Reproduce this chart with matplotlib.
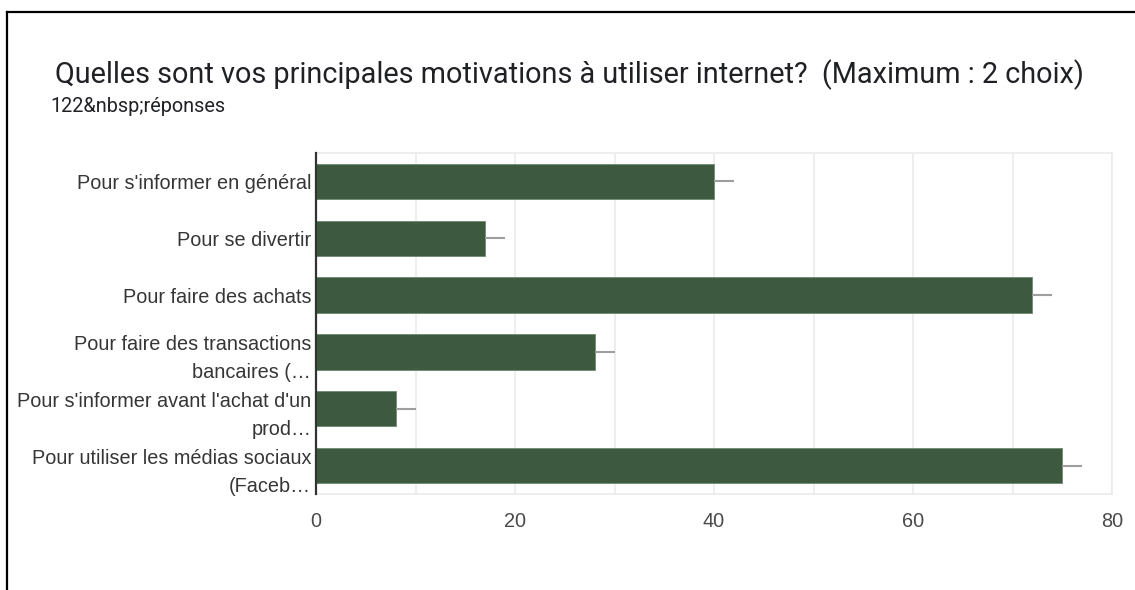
import matplotlib
matplotlib.use("Agg")
import matplotlib.pyplot as plt
from matplotlib.lines import Line2D

# survey answers (count of respondents per motivation)
labels = [
    "Pour s'informer en général",
    "Pour se divertir",
    "Pour faire des achats",
    "Pour faire des transactions\nbancaires (…",
    "Pour s'informer avant l'achat d'un\nprod…",
    "Pour utiliser les médias sociaux\n(Faceb…",
]
counts = [40, 17, 72, 28, 8, 75]
err = [2, 2, 2, 2, 2, 2]
xticks = [0, 20, 40, 60, 80]

bar_color = "#3d5a40"
grid_color = "#ebebeb"
text_color = "#363636"

fig = plt.figure(figsize=(11.35, 5.9), dpi=100)
ax = fig.add_axes([316 / 1135, 1 - 494 / 590, 796 / 1135, 341 / 590])

ypos = list(range(len(labels)))
ax.barh(ypos, counts, height=0.62, color=bar_color, edgecolor="#6f8a70",
        linewidth=0.6, zorder=3)
ax.errorbar(counts, ypos, xerr=[[0] * len(err), err], fmt="none",
            ecolor="#9e9e9e", elinewidth=1.5, capsize=0, zorder=4)

ax.set_xlim(0, 80)
ax.set_ylim(len(labels) - 0.5, -0.5)
ax.set_yticks(ypos)
ax.set_yticklabels(labels, family="Liberation Sans", fontsize=14.3,
                   color=text_color, linespacing=1.6)
ax.set_xticks(xticks)
ax.set_xticklabels([str(t) for t in xticks], family="Liberation Sans",
                   fontsize=14.3, color="#4a4a4a")
ax.set_xticks(range(10, 80, 20), minor=True)
ax.tick_params(axis="y", length=0, pad=3.5)
ax.tick_params(axis="x", length=0, pad=13)
ax.tick_params(axis="x", which="minor", length=0)
ax.grid(axis="x", which="both", color=grid_color, linewidth=1.2, zorder=0)

for side in ("top", "right", "bottom"):
    ax.spines[side].set_color(grid_color)
    ax.spines[side].set_linewidth(1.2)
ax.spines["left"].set_color("#333333")
ax.spines["left"].set_linewidth(1.6)
ax.spines["left"].set_zorder(5)

fig.text(55 / 1135, 1 - 75 / 590,
         "Quelles sont vos principales motivations à utiliser internet?  (Maximum : 2 choix)",
         family="Roboto", fontsize=20.8, color="#202124", va="center", ha="left")
fig.text(50 / 1135, 1 - 107 / 590, "122&nbsp;réponses",
         family="Roboto", fontsize=14.3, color="#202124", va="center", ha="left")

# frame around the card
fig.add_artist(Line2D([7 / 1135, 1], [1 - 12 / 590, 1 - 12 / 590],
                      transform=fig.transFigure, color="black", linewidth=1.6))
fig.add_artist(Line2D([7 / 1135, 7 / 1135], [0, 1 - 12 / 590],
                      transform=fig.transFigure, color="black", linewidth=1.6))

fig.savefig("out.png", dpi=100)
